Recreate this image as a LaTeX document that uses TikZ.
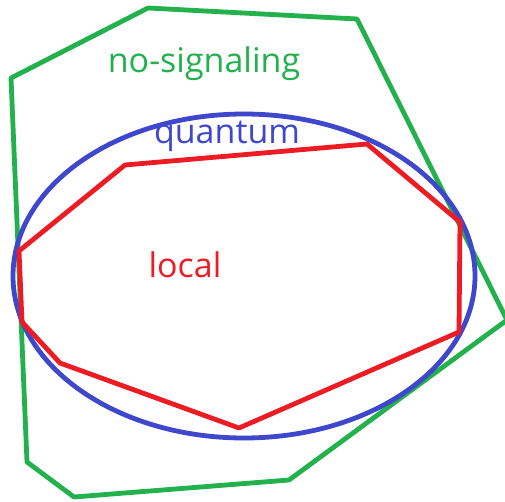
\documentclass[tikz,border=0pt]{standalone}
\usepackage{fontspec}
\setmainfont{Open Sans}
\usepackage{tikz}
\usetikzlibrary{positioning}
\definecolor{nsgreen}{RGB}{34,177,76}
\definecolor{qblue}{RGB}{63,72,204}
\definecolor{lred}{RGB}{237,28,36}

\begin{document}
\begin{tikzpicture}[x=1pt, y=-1pt, line join=round,
    set/.style={line width=4.8pt},
    setlabel/.style={font=\fontsize{34}{40}\selectfont, inner sep=0pt}]
    \useasboundingbox (0,0) rectangle (505,502);
    % no-signaling polytope
    \draw[set, nsgreen] (148,8) -- (357,19) -- (507,320) -- (289,480)
        -- (74,497) -- (27,462) -- (11,78) -- cycle;
    % quantum set
    \draw[set, qblue] (244,276) ellipse [x radius=231, y radius=162];
    % local polytope
    \draw[set, lred] (125,165) -- (367,144) -- (460,222) -- (459,332)
        -- (239,428) -- (60,363) -- (22,322) -- (19,251) -- cycle;

    \node[setlabel, text=nsgreen] (ns) at (204,64) {no-signaling};
    \node[setlabel, text=qblue] (q) at (227,136) {quantum};
    \node[setlabel, text=lred] (loc) at (185,265) {local};
\end{tikzpicture}
\end{document}
